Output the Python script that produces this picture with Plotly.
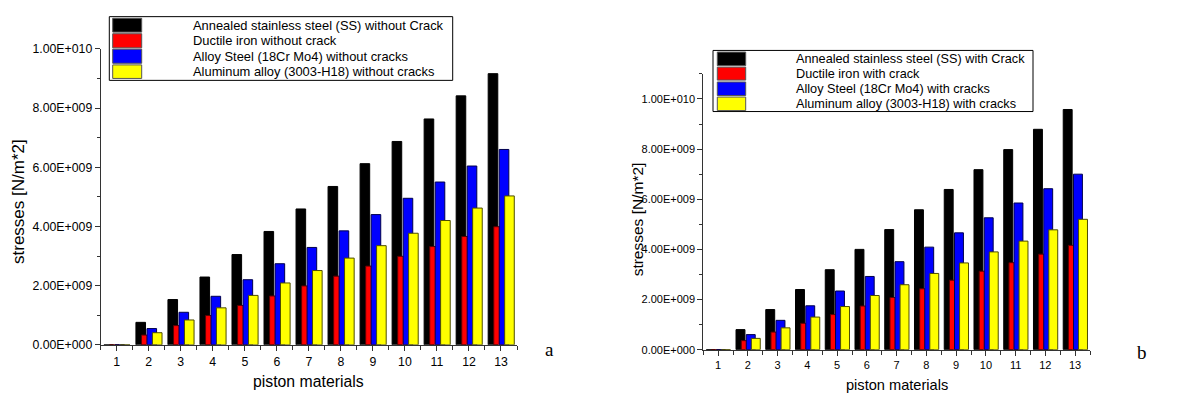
import plotly.graph_objects as go

W, H = 1180, 403

# ---------------- data ----------------
categories = list(range(1, 14))
x_tick_labels = [str(c) for c in categories]

y_tickvals = [0, 2e9, 4e9, 6e9, 8e9, 1e10]
y_ticktext = ["0.00E+000", "2.00E+009", "4.00E+009", "6.00E+009", "8.00E+009", "1.00E+010"]

names_a = [
    "Annealed stainless steel (SS) without Crack",
    "Ductile iron without crack",
    "Alloy Steel (18Cr Mo4) without cracks",
    "Aluminum alloy (3003-H18) without cracks",
]
names_b = [
    "Annealed stainless steel (SS) with Crack",
    "Ductile iron with crack",
    "Alloy Steel (18Cr Mo4) with cracks",
    "Aluminum alloy (3003-H18) with cracks",
]

ss_a = [0, 0.76e9, 1.53e9, 2.29e9, 3.05e9, 3.83e9, 4.59e9, 5.35e9, 6.12e9, 6.87e9, 7.63e9, 8.41e9, 9.16e9]
di_a = [0, 0.33e9, 0.65e9, 0.99e9, 1.33e9, 1.65e9, 1.99e9, 2.32e9, 2.66e9, 2.99e9, 3.32e9, 3.66e9, 3.99e9]
as_a = [0, 0.55e9, 1.10e9, 1.64e9, 2.20e9, 2.74e9, 3.29e9, 3.85e9, 4.40e9, 4.95e9, 5.50e9, 6.04e9, 6.60e9]
al_a = [0, 0.41e9, 0.84e9, 1.25e9, 1.67e9, 2.09e9, 2.51e9, 2.93e9, 3.35e9, 3.77e9, 4.20e9, 4.62e9, 5.03e9]

ss_b = [0, 0.80e9, 1.60e9, 2.40e9, 3.19e9, 4.00e9, 4.79e9, 5.58e9, 6.39e9, 7.18e9, 7.98e9, 8.79e9, 9.58e9]
di_b = [0, 0.36e9, 0.70e9, 1.05e9, 1.40e9, 1.74e9, 2.08e9, 2.43e9, 2.77e9, 3.13e9, 3.47e9, 3.81e9, 4.16e9]
as_b = [0, 0.60e9, 1.17e9, 1.75e9, 2.34e9, 2.92e9, 3.51e9, 4.09e9, 4.66e9, 5.26e9, 5.85e9, 6.42e9, 7.00e9]
al_b = [0, 0.45e9, 0.87e9, 1.30e9, 1.72e9, 2.16e9, 2.59e9, 3.04e9, 3.46e9, 3.90e9, 4.33e9, 4.78e9, 5.20e9]

# ---------------- style ----------------
FILL = ["#000000", "#ff0000", "#0000ff", "#ffff00"]
EDGE = ["#000000", "#5a0000", "#00004d", "#4d4d00"]
OFFSETS = [-0.40, -0.225, -0.055, 0.115]
BAR_W = 0.30
FONT = "Liberation Sans, Arial, sans-serif"
AXC = "#333333"


def fx(px):
    return px / W


def fy(py):
    return 1 - py / H


fig = go.Figure()

for xa, ya, series in [("x", "y", [ss_a, di_a, as_a, al_a]), ("x2", "y2", [ss_b, di_b, as_b, al_b])]:
    for i, vals in enumerate(series):
        fig.add_trace(go.Bar(
            x=categories, y=vals, width=BAR_W, offset=OFFSETS[i],
            marker=dict(color=FILL[i], line=dict(color=EDGE[i], width=1)),
            xaxis=xa, yaxis=ya, showlegend=False, hoverinfo="x+y",
        ))

half_ticks = [c - 0.5 for c in categories] + [categories[-1] + 0.5]


def xaxis_cfg(domain, fs):
    return dict(
        domain=domain, range=[0.5, 13.5], tickmode="array", tickvals=categories,
        ticktext=x_tick_labels, ticks="outside", ticklen=5, tickwidth=1, tickcolor=AXC,
        showline=True, linecolor=AXC, linewidth=1, showgrid=False, zeroline=False,
        tickfont=dict(family=FONT, size=fs, color="#000"),
        minor=dict(tickmode="array", tickvals=half_ticks, ticks="outside", ticklen=4,
                   tickwidth=1, tickcolor=AXC),
        fixedrange=True,
    )


def yaxis_cfg(domain, rng, fs, anchor):
    return dict(
        domain=domain, range=rng, tickmode="array", tickvals=y_tickvals, ticktext=y_ticktext,
        ticks="outside", ticklen=5, tickwidth=1, tickcolor=AXC,
        showline=True, linecolor=AXC, linewidth=1, showgrid=False, zeroline=False,
        tickfont=dict(family=FONT, size=fs, color="#000"), anchor=anchor,
        minor=dict(tickmode="linear", tick0=0, dtick=1e9, ticks="outside", ticklen=3,
                   tickwidth=1, tickcolor=AXC),
        fixedrange=True,
    )


fig.update_layout(
    width=W, height=H, margin=dict(l=0, r=0, t=0, b=0),
    paper_bgcolor="white", plot_bgcolor="white",
    barmode="overlay",
    xaxis=xaxis_cfg([fx(100.7), fx(517)], 12.3) | dict(anchor="y"),
    yaxis=yaxis_cfg([fy(350), fy(43.3)], [0, 1e10], 12.3, "x"),
    xaxis2=xaxis_cfg([fx(703.3), fx(1090)], 11) | dict(anchor="y2"),
    yaxis2=yaxis_cfg([fy(355), fy(69.3)], [0, 1.1e10], 11, "x2"),
)

annotations = []
shapes = []


def ann(x, y, text, size, family=FONT, angle=0, xanchor="center"):
    return dict(x=fx(x), y=fy(y), xref="paper", yref="paper", text=text, showarrow=False,
                textangle=angle, xanchor=xanchor, yanchor="middle",
                font=dict(family=family, size=size, color="#000"))


SERIF = "Liberation Serif, Times New Roman, serif"
annotations += [
    ann(308.5, 388, "piston materials", 15.8),
    ann(19, 202, "stresses [N/m*2]", 17, angle=-90),
    ann(897, 391.5, "piston materials", 14.6),
    ann(637, 220, "stresses [N/m*2]", 15.5, angle=-90),
    ann(549, 355, "a", 19, family=SERIF),
    ann(1142, 358, "b", 19, family=SERIF),
]

# custom legends
legends = [
    dict(box=(109.3, 10, 452.7, 76), sw=(112.7, 141.7),
         rows=[(11.7, 26), (27.7, 42.3), (43.7, 58.3), (60, 74)], tx=191, fs=12.9, names=names_a),
    dict(box=(713, 45, 1033, 108.3), sw=(717.3, 745.7),
         rows=[(46.7, 60.7), (62.3, 75.7), (77.7, 91.7), (93.3, 107.3)], tx=794.3, fs=12.7, names=names_b),
]
for lg in legends:
    x0, y0, x1, y1 = lg["box"]
    shapes.append(dict(type="rect", xref="paper", yref="paper", x0=fx(x0), x1=fx(x1),
                       y0=fy(y1), y1=fy(y0), line=dict(color="#000", width=1),
                       fillcolor="rgba(255,255,255,0)", layer="above"))
    for i, (r0, r1) in enumerate(lg["rows"]):
        shapes.append(dict(type="rect", xref="paper", yref="paper", x0=fx(lg["sw"][0]),
                           x1=fx(lg["sw"][1]), y0=fy(r1), y1=fy(r0),
                           line=dict(color="#555", width=1), fillcolor=FILL[i], layer="above"))
        annotations.append(ann(lg["tx"], (r0 + r1) / 2, lg["names"][i], lg["fs"], xanchor="left"))

fig.update_layout(annotations=annotations, shapes=shapes)

fig.write_html("out.html", config={"displayModeBar": False},
               post_script="document.body.style.margin='0';")
